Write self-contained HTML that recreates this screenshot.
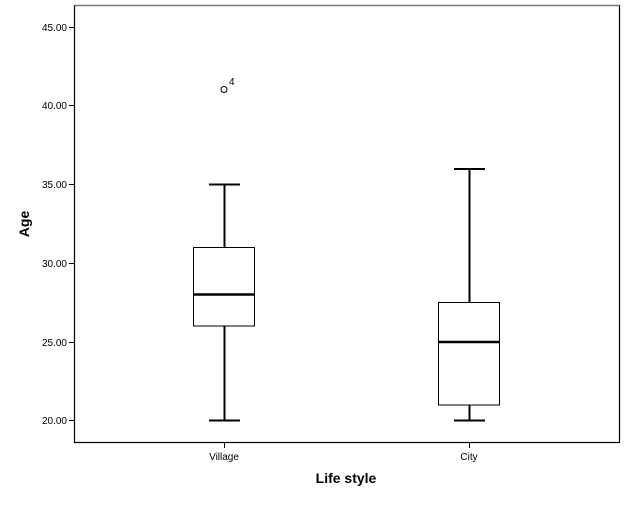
<!DOCTYPE html><html><head><style>body{margin:0;background:#fff}</style></head><body>
<svg width="626" height="501" xmlns="http://www.w3.org/2000/svg" font-family="Liberation Sans, sans-serif">
<rect x="0" y="0" width="626" height="501" fill="#fff"/>
<rect x="74.5" y="5.5" width="545" height="437" fill="#fff" stroke="#000" stroke-width="1.2"/>
<line x1="74.5" y1="5.5" x2="619.5" y2="5.5" stroke="#777" stroke-width="1.2"/>
<g stroke="#000" stroke-width="1">
<line x1="69" y1="27.5" x2="74" y2="27.5"/><line x1="69" y1="105.5" x2="74" y2="105.5"/>
<line x1="69" y1="184.5" x2="74" y2="184.5"/><line x1="69" y1="263.5" x2="74" y2="263.5"/>
<line x1="69" y1="342.5" x2="74" y2="342.5"/><line x1="69" y1="420.5" x2="74" y2="420.5"/>
<line x1="224.5" y1="443" x2="224.5" y2="448"/><line x1="469.5" y1="443" x2="469.5" y2="448"/>
</g>
<g font-size="10" text-anchor="end" fill="#000">
<text x="67" y="31">45.00</text><text x="67" y="109">40.00</text><text x="67" y="188">35.00</text>
<text x="67" y="267">30.00</text><text x="67" y="346">25.00</text><text x="67" y="424">20.00</text>
</g>
<g font-size="10" text-anchor="middle"><text x="224" y="460">Village</text><text x="469" y="460">City</text></g>
<text x="346" y="483" font-size="14" font-weight="bold" text-anchor="middle">Life style</text>
<text transform="translate(29,224) rotate(-90)" font-size="14" font-weight="bold" text-anchor="middle">Age</text>
<g stroke="#000" fill="none">
<line x1="224.5" y1="184.5" x2="224.5" y2="247" stroke-width="2"/>
<line x1="224.5" y1="326" x2="224.5" y2="420.5" stroke-width="2"/>
<line x1="209" y1="184.5" x2="240" y2="184.5" stroke-width="2"/>
<line x1="209" y1="420.5" x2="240" y2="420.5" stroke-width="2"/>
<rect x="193.5" y="247.5" width="61" height="78.5" stroke-width="1"/>
<line x1="193.5" y1="294.5" x2="254.5" y2="294.5" stroke-width="2.5"/>
<circle cx="224" cy="89.5" r="3" stroke-width="1"/>
<line x1="469.5" y1="169" x2="469.5" y2="302" stroke-width="2"/>
<line x1="469.5" y1="405" x2="469.5" y2="420.5" stroke-width="2"/>
<line x1="454" y1="169" x2="485" y2="169" stroke-width="2"/>
<line x1="454" y1="420.5" x2="485" y2="420.5" stroke-width="2"/>
<rect x="438.5" y="302.5" width="61" height="102.5" stroke-width="1"/>
<line x1="438.5" y1="342" x2="499.5" y2="342" stroke-width="2.5"/>
</g>
<text x="229" y="85" font-size="10">4</text>
</svg></body></html>
